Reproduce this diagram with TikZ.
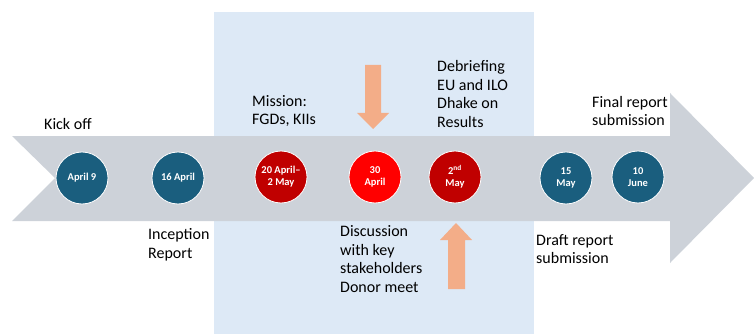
\documentclass[tikz,border=0pt]{standalone}
\usepackage{fontspec}
\setmainfont{Carlito}
\usetikzlibrary{positioning}
\definecolor{bandblue}{HTML}{DDE9F6}
\definecolor{arrowgray}{HTML}{CDD2D9}
\definecolor{dotblue}{HTML}{1A5E7E}
\definecolor{dotred}{HTML}{C00000}
\definecolor{dotbright}{HTML}{FF0000}
\definecolor{pointer}{HTML}{F3AD88}
\tikzset{
  date/.style={circle, draw=white, line width=0.8pt, minimum size=52pt, inner sep=0pt,
    text=white, align=center, font=\fontsize{10.5}{12}\selectfont\bfseries},
  note/.style={anchor=west, align=left, inner sep=0pt, font=\fontsize{16}{18.5}\selectfont}
}

\begin{document}
\begin{tikzpicture}[x=1pt,y=-1pt]
  \useasboundingbox (0,0) rectangle (754,334);
  % mission period
  \fill[bandblue] (214,12) rectangle (534,334);
  % timeline arrow
  \fill[arrowgray] (12,136) -- (670,136) -- (670,93) -- (754,178) -- (670,263)
    -- (670,221) -- (12,221) -- (55,178) -- cycle;

  \node[date, fill=dotblue] (apr9) at (82,178) {April 9};
  \node[date, fill=dotblue] (apr16) at (178,178) {16 April};
  \node[date, fill=dotred] (mission days) at (281,177) {20 April--\\2 May};
  \node[date, fill=dotbright] (apr30) at (375,177) {30\\April};
  \node[date, fill=dotred] (may2) at (455,177) {2\textsuperscript{nd}\\May};
  \node[date, fill=dotblue] (may15) at (566,178) {15\\May};
  \node[date, fill=dotblue] (jun10) at (638,177) {10\\June};

  % block arrows
  \fill[pointer] (365,65) -- (381,65) -- (381,113) -- (389,113) -- (373,129)
    -- (357,113) -- (365,113) -- cycle;
  \fill[pointer] (448,289) -- (465,289) -- (465,240) -- (472,240) -- (456,223)
    -- (440,240) -- (448,240) -- cycle;

  \node[note] (kickoff) at (44,124) {Kick off};
  \node[note] (inception) at (148,245) {Inception\\Report};
  \node[note] (mission) at (252,111) {Mission:\\FGDs, KIIs};
  \node[note] (discussion) at (340,259) {Discussion\\with key\\stakeholders\\Donor meet};
  \node[note] (debrief) at (437,94) {Debriefing\\EU and ILO\\Dhake on\\Results};
  \node[note] (final) at (592,111) {Final report\\submission};
  \node[note] (draft) at (536,249) {Draft report\\submission};
\end{tikzpicture}
\end{document}
